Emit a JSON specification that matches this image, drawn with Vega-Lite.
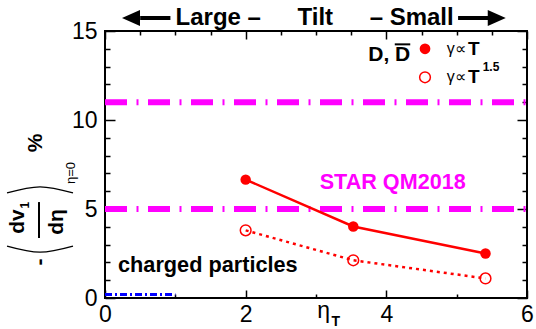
{
  "$schema": "https://vega.github.io/schema/vega-lite/v6.json",
  "width": 422,
  "height": 267,
  "autosize": {"type": "none"},
  "padding": {"left": 105, "top": 31, "right": 9, "bottom": 31},
  "background": "white",
  "config": {
    "view": {"stroke": "black", "strokeWidth": 2},
    "axis": {"domain": false, "grid": false, "labelFont": "Liberation Sans", "labelFontSize": 23, "labelColor": "black", "tickColor": "black", "tickWidth": 1.5, "labelOverlap": false, "labelFlush": false},
    "text": {"font": "Liberation Sans", "color": "black"}
  },
  "datasets": {
    "series": [
      {"eta": 2.0, "v": 6.65, "model": "T"},
      {"eta": 3.53, "v": 4.02, "model": "T"},
      {"eta": 5.41, "v": 2.5, "model": "T"},
      {"eta": 2.0, "v": 3.8, "model": "T1.5"},
      {"eta": 3.53, "v": 2.12, "model": "T1.5"},
      {"eta": 5.41, "v": 1.1, "model": "T1.5"}
    ]
  },
  "data": {"name": "series"},
  "encoding": {
    "x": {"field": "eta", "type": "quantitative", "scale": {"domain": [0, 6], "nice": false, "zero": false}, "axis": null},
    "y": {"field": "v", "type": "quantitative", "scale": {"domain": [0, 15], "nice": false, "zero": false}, "axis": null}
  },
  "resolve": {"axis": {"x": "independent", "y": "independent"}},
  "layer": [
    {
      "data": {"values": [{"eta": 0, "eta2": 6, "v": 5}, {"eta": 0, "eta2": 6, "v": 11}]},
      "mark": {"type": "rule", "color": "#ff00ff", "strokeWidth": 6, "strokeDash": [22, 9.5, 2, 9.5]},
      "encoding": {"x2": {"field": "eta2"}}
    },
    {
      "data": {"values": [{"eta": 0, "eta2": 1, "v": 0.2}]},
      "mark": {"type": "rule", "color": "#0000ff", "strokeWidth": 3, "strokeDash": [7, 3, 2, 3]},
      "encoding": {"x2": {"field": "eta2"}}
    },
    {
      "transform": [{"filter": "datum.model === 'T'"}],
      "mark": {"type": "line", "color": "#ff0000", "strokeWidth": 2.5},
      "encoding": {
        "x": {"field": "eta", "type": "quantitative", "scale": {"domain": [0, 6], "nice": false, "zero": false},
          "axis": {"orient": "bottom", "title": null, "format": "d", "values": [0, 0.5, 1, 1.5, 2, 2.5, 3, 3.5, 4, 4.5, 5, 5.5, 6],
            "labelExpr": "datum.value % 2 === 0 ? datum.label : ''",
            "tickSize": {"condition": {"test": "datum.value % 2 === 0", "value": -8}, "value": -4},
            "labelPadding": 13}},
        "y": {"field": "v", "type": "quantitative", "scale": {"domain": [0, 15], "nice": false, "zero": false},
          "axis": {"orient": "left", "title": null, "format": "d", "values": [0, 1, 2, 3, 4, 5, 6, 7, 8, 9, 10, 11, 12, 13, 14, 15],
            "labelExpr": "datum.value % 5 === 0 ? datum.label : ''",
            "tickSize": {"condition": {"test": "datum.value % 5 === 0", "value": -10}, "value": -5},
            "labelPadding": 18}}
      }
    },
    {
      "transform": [{"filter": "datum.model === 'T1.5'"}],
      "mark": {"type": "line", "color": "#ff0000", "strokeWidth": 2.5, "strokeDash": [3, 4]}
    },
    {
      "transform": [{"filter": "datum.model === 'T'"}],
      "mark": {"type": "point", "shape": "circle", "filled": true, "color": "#ff0000", "size": 110, "opacity": 1},
      "encoding": {
        "x": {"field": "eta", "type": "quantitative", "scale": {"domain": [0, 6], "nice": false, "zero": false},
          "axis": {"orient": "top", "title": null, "values": [0, 0.5, 1, 1.5, 2, 2.5, 3, 3.5, 4, 4.5, 5, 5.5, 6], "labels": false,
            "tickSize": {"condition": {"test": "datum.value % 2 === 0", "value": -8}, "value": -4}}},
        "y": {"field": "v", "type": "quantitative", "scale": {"domain": [0, 15], "nice": false, "zero": false},
          "axis": {"orient": "right", "title": null, "values": [0, 1, 2, 3, 4, 5, 6, 7, 8, 9, 10, 11, 12, 13, 14, 15], "labels": false,
            "tickSize": {"condition": {"test": "datum.value % 5 === 0", "value": -10}, "value": -5}}}
      }
    },
    {
      "transform": [{"filter": "datum.model === 'T1.5'"}],
      "mark": {"type": "point", "shape": "circle", "filled": false, "color": "#ff0000", "size": 115, "strokeWidth": 1.5, "opacity": 1}
    },
    {
      "data": {"values": [{"eta": 4.55, "v": 14.0}]},
      "mark": {"type": "point", "shape": "circle", "filled": true, "color": "#ff0000", "size": 115, "opacity": 1}
    },
    {
      "data": {"values": [{"eta": 4.55, "v": 12.4}]},
      "mark": {"type": "point", "shape": "circle", "filled": false, "color": "#ff0000", "size": 115, "strokeWidth": 1.5, "opacity": 1}
    },
    {
      "data": {"values": [{"eta": 4.12, "eta2": 4.34, "v": 14.25}]},
      "mark": {"type": "rule", "color": "black", "strokeWidth": 2},
      "encoding": {"x2": {"field": "eta2"}}
    },
    {
      "data": {"values": [{"eta": 0.5, "eta2": 0.93, "v": 15.73}, {"eta": 5.02, "eta2": 5.45, "v": 15.73}]},
      "mark": {"type": "rule", "color": "black", "strokeWidth": 4},
      "encoding": {"x2": {"field": "eta2"}}
    },
    {
      "data": {"values": [{"eta": 0.37, "v": 15.73}]},
      "mark": {"type": "point", "shape": "M-1,0L1,-0.9L1,0.9Z", "filled": true, "color": "black", "size": 324, "opacity": 1}
    },
    {
      "data": {"values": [{"eta": 5.57, "v": 15.73}]},
      "mark": {"type": "point", "shape": "M1,0L-1,-0.9L-1,0.9Z", "filled": true, "color": "black", "size": 324, "opacity": 1}
    },
    {
      "data": {"values": [{"eta": 1.61, "v": 15.73, "label": "Large –"}, {"eta": 2.99, "v": 15.73, "label": "Tilt"}, {"eta": 4.36, "v": 15.73, "label": "– Small"}]},
      "mark": {"type": "text", "fontSize": 24, "fontWeight": "bold", "align": "center", "baseline": "middle"},
      "encoding": {"text": {"field": "label"}}
    },
    {
      "data": {"values": [{"eta": 4.34, "v": 13.65, "label": "D, D"}]},
      "mark": {"type": "text", "fontSize": 21, "fontWeight": "bold", "align": "right", "baseline": "middle"},
      "encoding": {"text": {"field": "label"}}
    },
    {
      "data": {"values": [{"eta": 4.86, "v": 14.0, "label": "γ∝"}, {"eta": 4.86, "v": 12.4, "label": "γ∝"}]},
      "mark": {"type": "text", "fontSize": 16, "align": "left", "baseline": "middle"},
      "encoding": {"text": {"field": "label"}}
    },
    {
      "data": {"values": [{"eta": 5.16, "v": 14.0, "label": "T"}, {"eta": 5.16, "v": 12.4, "label": "T"}]},
      "mark": {"type": "text", "fontSize": 19, "fontWeight": "bold", "align": "left", "baseline": "middle"},
      "encoding": {"text": {"field": "label"}}
    },
    {
      "data": {"values": [{"eta": 5.37, "v": 13.0, "label": "1.5"}]},
      "mark": {"type": "text", "fontSize": 12, "fontWeight": "bold", "align": "left", "baseline": "middle"},
      "encoding": {"text": {"field": "label"}}
    },
    {
      "data": {"values": [{"eta": 4.09, "v": 6.46, "label": "STAR QM2018"}]},
      "mark": {"type": "text", "fontSize": 21.6, "fontWeight": "bold", "align": "center", "baseline": "middle", "color": "#ff00ff"},
      "encoding": {"text": {"field": "label"}}
    },
    {
      "data": {"values": [{"eta": 0.185, "v": 1.85, "label": "charged particles"}]},
      "mark": {"type": "text", "fontSize": 21.7, "fontWeight": "bold", "align": "left", "baseline": "middle"},
      "encoding": {"text": {"field": "label"}}
    },
    {
      "data": {"values": [{"eta": 3.11, "v": -0.73, "label": "η"}]},
      "mark": {"type": "text", "fontSize": 23, "align": "center", "baseline": "middle"},
      "encoding": {"text": {"field": "label"}}
    },
    {
      "data": {"values": [{"eta": 3.28, "v": -1.35, "label": "T"}]},
      "mark": {"type": "text", "fontSize": 14, "fontWeight": "bold", "align": "center", "baseline": "middle"},
      "encoding": {"text": {"field": "label"}}
    },
    {
      "data": {"values": [
        {"eta": -1.244, "v": 4.3, "label": "dv"},
        {"eta": -0.683, "v": 4.27, "label": "dη"},
        {"eta": -0.981, "v": 8.71, "label": "%"},
        {"eta": -0.924, "v": 2.02, "label": "-"}
      ]},
      "mark": {"type": "text", "fontSize": 21, "fontWeight": "bold", "align": "center", "baseline": "middle", "angle": 270},
      "encoding": {"text": {"field": "label"}}
    },
    {
      "data": {"values": [{"eta": -1.137, "v": 5.22, "label": "1"}]},
      "mark": {"type": "text", "fontSize": 12, "fontWeight": "bold", "align": "center", "baseline": "middle", "angle": 270},
      "encoding": {"text": {"field": "label"}}
    },
    {
      "data": {"values": [{"eta": -0.483, "v": 7.02, "label": "η=0"}]},
      "mark": {"type": "text", "fontSize": 13, "align": "center", "baseline": "middle", "angle": 270},
      "encoding": {"text": {"field": "label"}}
    },
    {
      "data": {"values": [{"eta": -0.938, "v": 3.37, "v2": 5.39}]},
      "mark": {"type": "rule", "color": "black", "strokeWidth": 2},
      "encoding": {"y2": {"field": "v2"}}
    },
    {
      "data": {"values": [
        {"part": "low", "eta": -1.393, "v": 2.92},
        {"part": "low", "eta": -0.924, "v": 2.58},
        {"part": "low", "eta": -0.455, "v": 2.92},
        {"part": "high", "eta": -1.393, "v": 5.9},
        {"part": "high", "eta": -0.924, "v": 6.24},
        {"part": "high", "eta": -0.455, "v": 5.9}
      ]},
      "mark": {"type": "line", "color": "black", "strokeWidth": 1.3, "interpolate": "natural"},
      "encoding": {"detail": {"field": "part"}}
    }
  ]
}
